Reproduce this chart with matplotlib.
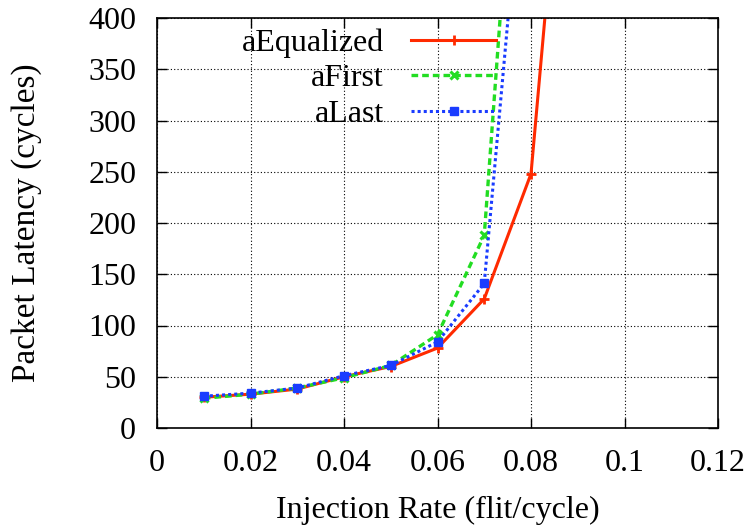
import numpy as np
import matplotlib.pyplot as plt

rate = [0.01, 0.02, 0.03, 0.04, 0.05, 0.06, 0.07, 0.08, 0.09]
equalized = [30, 33, 38, 50, 60, 78, 126, 248, 760]
first = [29, 33, 39, 49, 61, 91, 188, 812]
last = [31, 34, 39, 51, 61, 84, 141, 649]

plt.rcParams['font.family'] = ['Liberation Serif', 'DejaVu Serif']
plt.rcParams['font.size'] = 23

fig = plt.figure(figsize=(7.52, 5.29), dpi=100)
ax = fig.add_axes([157/752, 1-428/529, (718-157)/752, (428-18)/529])

ax.plot(rate, equalized, color='#ff2a00', lw=2.2, ls='-', marker='+', ms=7, mew=2,
        label='aEqualized')
ax.plot(rate[:len(first)], first, color='#22dd22', lw=2.4, ls=(0, (2, 1.2)),
        marker='x', ms=6, mew=2.2, label='aFirst')
ax.plot(rate[:len(last)], last, color='#1a3cff', lw=2.2, ls=(0, (1, 1)),
        marker='s', ms=5.5, mew=1, label='aLast')

ax.set_xlim(0, 0.12)
ax.set_ylim(0, 400)
ax.set_xticks(np.arange(0, 0.121, 0.02))
ax.set_xticklabels(['0', '0.02', '0.04', '0.06', '0.08', '0.1', '0.12'])
ax.set_yticks(np.arange(0, 401, 50))
ax.grid(True, color='black', ls=(0, (1, 2)), lw=0.8)
ax.tick_params(direction='in', length=7, width=1, top=True, right=True, pad=15)
for s in ax.spines.values():
    s.set_linewidth(1.2)

ax.set_xlabel('Injection Rate (flit/cycle)', labelpad=13)
ax.set_ylabel('Packet Latency (cycles)', fontsize=24, labelpad=33)

ax.legend(loc='upper right', bbox_to_anchor=(0.604, 0.975), frameon=False,
          markerfirst=False, handlelength=2.65, handletextpad=0.85,
          labelspacing=0.2, borderpad=0, borderaxespad=0)

fig.savefig('out.png', dpi=100)
